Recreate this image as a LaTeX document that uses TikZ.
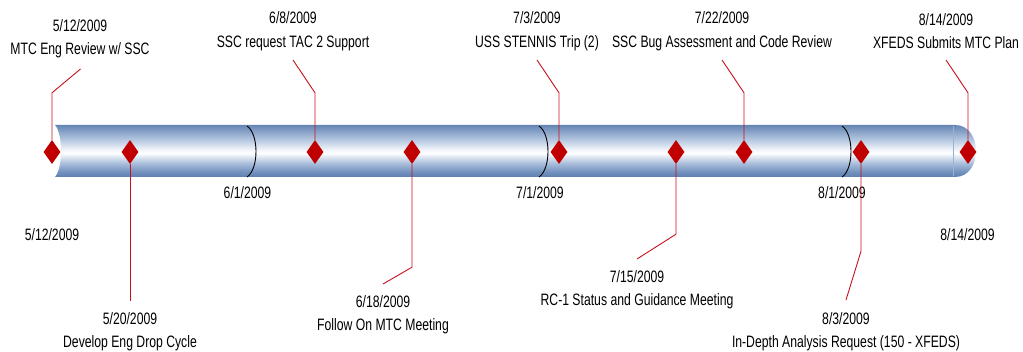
\documentclass[tikz,border=0pt]{standalone}
\usepackage{fontspec}
\setmainfont{Liberation Sans}[FakeStretch=0.74]
\usetikzlibrary{shapes.geometric}
\definecolor{cylA}{HTML}{5F80B0}
\definecolor{cylB}{HTML}{7291BE}
\definecolor{cylC}{HTML}{A8BDDA}
\definecolor{cylD}{HTML}{E4EBF4}
\definecolor{cylE}{HTML}{FFFFFF}
\definecolor{cylF}{HTML}{EEF2F8}
\definecolor{cylG}{HTML}{BACBE2}
\definecolor{cylH}{HTML}{8CA6CB}
\definecolor{cylI}{HTML}{6585B3}
\definecolor{diamondred}{HTML}{C00000}
\definecolor{leadred}{HTML}{C8101E}
\definecolor{capline}{HTML}{9CB2D2}
\pgfdeclareverticalshading{cylshade}{100bp}{color(0bp)=(cylA); color(25bp)=(cylA); color(30bp)=(cylB); color(38bp)=(cylC); color(45bp)=(cylD); color(48bp)=(cylE); color(52bp)=(cylF); color(60bp)=(cylG); color(68bp)=(cylH); color(75bp)=(cylI); color(100bp)=(cylI)}
\begin{document}
\begin{tikzpicture}[x=1pt,y=-1pt,
  lbl/.style={font=\fontsize{16.5}{23.5}\selectfont, align=center, inner sep=0pt},
  ms/.style={shape=diamond, fill=diamondred, draw=none, minimum width=17pt, minimum height=24pt, inner sep=0pt},
  lead/.style={draw=leadred, line width=0.9pt},
  month/.style={draw=black, line width=0.9pt}]
\useasboundingbox (0,0) rectangle (1023,352);
% cylinder
\path[shading=cylshade] (55,125) -- (955,125) .. controls (983,125) and (983,177) .. (955,177) -- (55,177) .. controls (63,168) and (63,134) .. (55,125) -- cycle;
\draw[capline, line width=0.6pt] (953,126) -- (953,176);
% month dividers
\draw[month] (247,126) .. controls (259,134) and (259,169) .. (247,177);
\draw[month] (539,126) .. controls (551,134) and (551,169) .. (539,177);
\draw[month] (842,126) .. controls (854,134) and (854,169) .. (842,177);
% month labels
\node[lbl] (jun) at (247.5,193) {6/1/2009};
\node[lbl] (jul) at (540,193) {7/1/2009};
\node[lbl] (aug) at (842,193) {8/1/2009};
\node[lbl] (start) at (52,235) {5/12/2009};
\node[lbl] (end) at (967.5,235) {8/14/2009};
% event labels
\node[lbl] (t1) at (80,38.5) {5/12/2009\\MTC Eng Review w/ SSC};
\node[lbl] (t3) at (293,31) {6/8/2009\\SSC request TAC 2 Support};
\node[lbl] (t5) at (537,31) {7/3/2009\\USS STENNIS Trip (2)};
\node[lbl] (t7) at (722,31) {7/22/2009\\SSC Bug Assessment and Code Review};
\node[lbl] (t9) at (946,31) {8/14/2009\\XFEDS Submits MTC Plan};
\node[lbl] (t2) at (130,331.5) {5/20/2009\\Develop Eng Drop Cycle};
\node[lbl] (t4) at (383,314.5) {6/18/2009\\Follow On MTC Meeting};
\node[lbl] (t6) at (637,289.5) {7/15/2009\\RC-1 Status and Guidance Meeting};
\node[lbl] (t8) at (846,331.5) {8/3/2009\\In-Depth Analysis Request (150 - XFEDS)};
% milestones
\node[ms] (m1) at (52,152) {};
\node[ms] (m2) at (130,152) {};
\node[ms] (m3) at (315,152) {};
\node[ms] (m4) at (412,152) {};
\node[ms] (m5) at (559,152) {};
\node[ms] (m6) at (676,152) {};
\node[ms] (m7) at (744,152) {};
\node[ms] (m8) at (861,152) {};
\node[ms] (m9) at (968,152) {};
% leader ends
\coordinate (e1) at (80.5,69);
\coordinate (e3) at (293,60);
\coordinate (e5) at (537,60);
\coordinate (e7) at (722,60);
\coordinate (e9) at (946,60);
\coordinate (e2) at (130,301);
\coordinate (e4) at (383,284);
\coordinate (e6) at (637,259);
\coordinate (e8) at (846,300);
% leaders
\draw[lead] (m1.north) -- ++(0,-47) -- (e1);
\draw[lead] (m3.north) -- ++(0,-47) -- (e3);
\draw[lead] (m5.north) -- ++(0,-47) -- (e5);
\draw[lead] (m7.north) -- ++(0,-47) -- (e7);
\draw[lead] (m9.north) -- ++(0,-47) -- (e9);
\draw[lead] (m2.south) -- (e2);
\draw[lead] (m4.south) -- ++(0,103) -- (e4);
\draw[lead] (m6.south) -- ++(0,70) -- (e6);
\draw[lead] (m8.south) -- ++(0,87) -- (e8);
\end{tikzpicture}
\end{document}
